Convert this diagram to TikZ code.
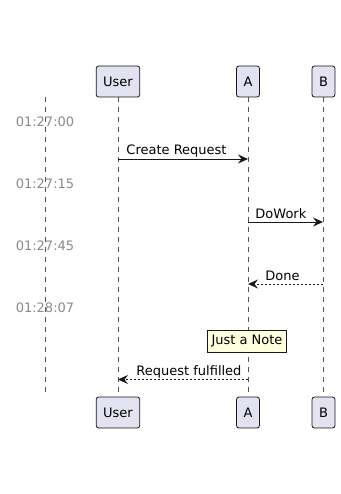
\documentclass[tikz,border=0pt]{standalone}
\usepackage{fontspec}
\setmainfont{DejaVu Sans}
\usepackage{xcolor}
\usetikzlibrary{arrows.meta,positioning}
\definecolor{partfill}{HTML}{E2E2F0}
\definecolor{linecol}{HTML}{181818}
\definecolor{notefill}{HTML}{FEFFDD}
\definecolor{timecol}{HTML}{8A8A8A}

\begin{document}
\begin{tikzpicture}[x=1pt, y=-1pt, font=\fontsize{13}{15}\selectfont, part/.style={draw=linecol, fill=partfill, line width=0.8pt, rounded corners=2.5pt, minimum height=31pt, inner xsep=7pt, inner ysep=0pt}, life/.style={draw=linecol!75, line width=0.5pt, dash pattern=on 5pt off 5pt}, msg/.style={-{Stealth[length=10pt, width=9pt, inset=3.5pt]}, draw=linecol, line width=0.9pt}, reply/.style={msg, dash pattern=on 2pt off 2pt}, lbl/.style={inner sep=0pt, anchor=base west}, tstamp/.style={text=timecol, inner sep=0pt, anchor=base}, notebox/.style={draw=linecol, fill=notefill, line width=0.6pt, minimum height=22pt, inner xsep=4pt, inner ysep=0pt}]
\useasboundingbox (0,0) rectangle (340,494);
% participants, top and bottom
\node[part] (user) at (118,81.5) {User};
\node[part] (a) at (248,81.5) {A};
\node[part] (b) at (323.5,81.5) {B};
\node[part] (userb) at (118,412.5) {User};
\node[part] (ab) at (248,412.5) {A};
\node[part] (bb) at (323.5,412.5) {B};
% lifelines
\coordinate (tl0) at (45,97);
\coordinate (tl1) at (45,392);
\draw[life] (tl0) -- (tl1);
\draw[life, shorten >=5pt] (user) -- (userb);
\draw[life, shorten >=5pt] (a) -- (ab);
\draw[life, shorten >=5pt] (b) -- (bb);
% time stamps
\node[tstamp] (t1) at (45,126.5) {01:27:00};
\node[tstamp] (t2) at (45,188.5) {01:27:15};
\node[tstamp] (t3) at (45,250.5) {01:27:45};
\node[tstamp] (t4) at (45,312) {01:28:07};
% messages
\coordinate (u1) at (118,159);
\coordinate (a1) at (248,159);
\coordinate (a2) at (248,222);
\coordinate (b2) at (323,222);
\coordinate (b3) at (323,284);
\coordinate (a3) at (248,284);
\coordinate (a4) at (248,379.5);
\coordinate (u4) at (118,379.5);
\draw[msg] (u1) -- node[lbl, pos=0, xshift=8pt, yshift=4pt] {Create Request} (a1);
\draw[msg] (a2) -- node[lbl, pos=0, xshift=7pt, yshift=4pt] {DoWork} (b2);
\draw[reply] (b3) -- node[lbl, pos=1, xshift=17pt, yshift=4pt] {Done} (a3);
\node[notebox] (note) at (247,341.5) {Just a Note};
\draw[reply] (a4) -- node[lbl, pos=1, xshift=18pt, yshift=4pt] {Request fulfilled} (u4);
\end{tikzpicture}
\end{document}
